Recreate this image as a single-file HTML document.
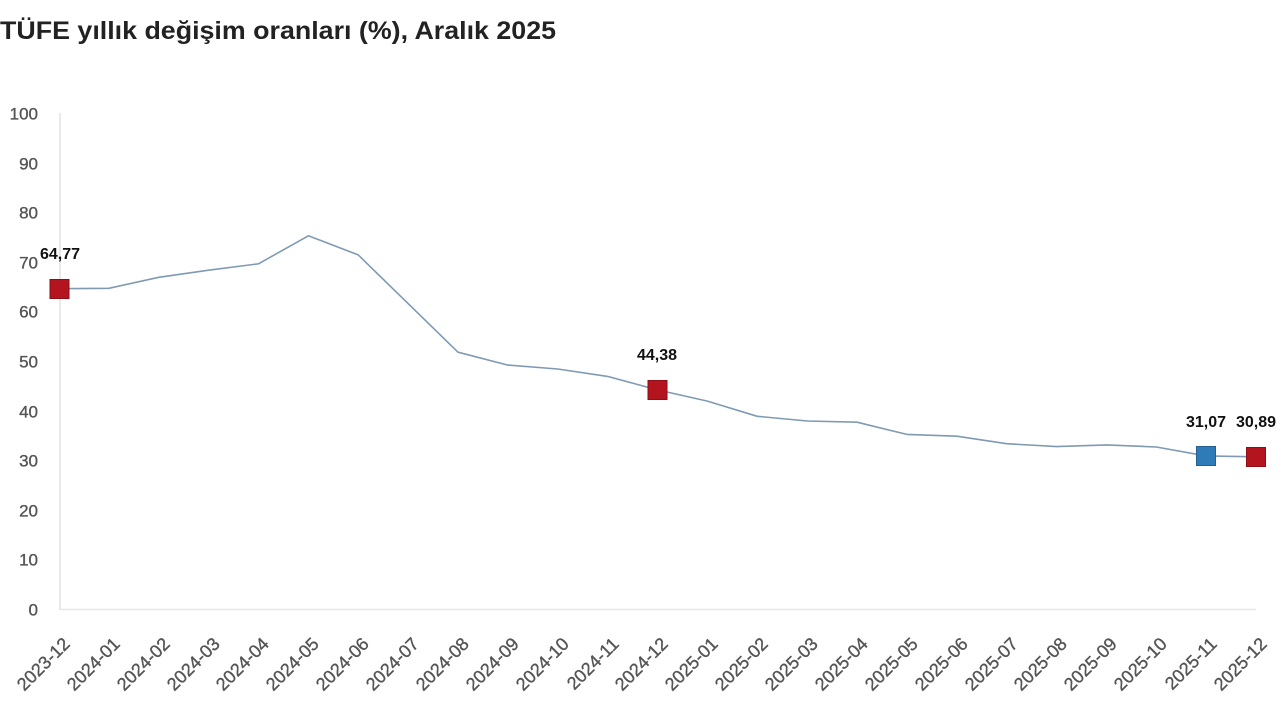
<!DOCTYPE html>
<html>
<head>
<meta charset="utf-8">
<style>
html,body{margin:0;padding:0;background:#fff;}
svg{display:block;}
text{font-family:"Liberation Sans",Arial,sans-serif;}
</style>
</head>
<body>
<svg width="1280" height="720" viewBox="0 0 1280 720" xmlns="http://www.w3.org/2000/svg">
<rect width="1280" height="720" fill="#fff"/>
<text x="0" y="39" font-size="25" font-weight="bold" fill="#222" textLength="556" lengthAdjust="spacingAndGlyphs">TÜFE yıllık değişim oranları (%), Aralık 2025</text>

<!-- axes -->
<line x1="60" y1="113" x2="60" y2="610" stroke="#e2e2e2" stroke-width="1.5"/>
<line x1="60" y1="609.5" x2="1256" y2="609.5" stroke="#e6e6e6" stroke-width="1.5"/>

<!-- y labels -->
<g font-size="17" fill="#555" stroke="#555" stroke-width="0.35" text-anchor="end" dominant-baseline="central">
<text x="38" y="114">100</text>
<text x="38" y="164">90</text>
<text x="38" y="213">80</text>
<text x="38" y="263">70</text>
<text x="38" y="312">60</text>
<text x="38" y="362">50</text>
<text x="38" y="412">40</text>
<text x="38" y="461">30</text>
<text x="38" y="511">20</text>
<text x="38" y="560">10</text>
<text x="38" y="610">0</text>
</g>

<!-- x labels -->
<g font-size="18" fill="#555" stroke="#555" stroke-width="0.35" text-anchor="end">
<text transform="translate(71,645) rotate(-45)">2023-12</text>
<text transform="translate(121,645) rotate(-45)">2024-01</text>
<text transform="translate(171,645) rotate(-45)">2024-02</text>
<text transform="translate(221,645) rotate(-45)">2024-03</text>
<text transform="translate(270,645) rotate(-45)">2024-04</text>
<text transform="translate(320,645) rotate(-45)">2024-05</text>
<text transform="translate(370,645) rotate(-45)">2024-06</text>
<text transform="translate(420,645) rotate(-45)">2024-07</text>
<text transform="translate(470,645) rotate(-45)">2024-08</text>
<text transform="translate(520,645) rotate(-45)">2024-09</text>
<text transform="translate(570,645) rotate(-45)">2024-10</text>
<text transform="translate(620,645) rotate(-45)">2024-11</text>
<text transform="translate(669,645) rotate(-45)">2024-12</text>
<text transform="translate(719,645) rotate(-45)">2025-01</text>
<text transform="translate(769,645) rotate(-45)">2025-02</text>
<text transform="translate(819,645) rotate(-45)">2025-03</text>
<text transform="translate(869,645) rotate(-45)">2025-04</text>
<text transform="translate(919,645) rotate(-45)">2025-05</text>
<text transform="translate(969,645) rotate(-45)">2025-06</text>
<text transform="translate(1019,645) rotate(-45)">2025-07</text>
<text transform="translate(1068,645) rotate(-45)">2025-08</text>
<text transform="translate(1118,645) rotate(-45)">2025-09</text>
<text transform="translate(1168,645) rotate(-45)">2025-10</text>
<text transform="translate(1218,645) rotate(-45)">2025-11</text>
<text transform="translate(1268,645) rotate(-45)">2025-12</text>
</g>

<!-- series line -->
<polyline fill="none" stroke="#7f9ab3" stroke-width="1.6" stroke-linejoin="round"
points="59,288.7 108.9,288.3 158.75,277.3 208.6,270.2 258.5,263.8 308.4,235.8 358.25,254.9 408.1,303.6 458,352.2 507.9,365.1 557.75,369.0 607.6,376.4 657.5,389.9 707.4,401.1 757.25,416.3 807.1,421.0 857,422.2 906.9,434.4 956.75,436.2 1006.6,443.7 1056.5,446.6 1106.4,444.9 1156.25,447.0 1206.1,455.9 1256,456.8"/>

<!-- markers -->
<rect x="50" y="279.5" width="19" height="19" fill="#b3141e" stroke="#8e0f16" stroke-width="1"/>
<rect x="648" y="380.5" width="19" height="19" fill="#b3141e" stroke="#8e0f16" stroke-width="1"/>
<rect x="1196.5" y="446.5" width="19" height="19" fill="#2f7bb8" stroke="#255f8f" stroke-width="1"/>
<rect x="1246.5" y="447.5" width="19" height="19" fill="#b3141e" stroke="#8e0f16" stroke-width="1"/>

<!-- data labels -->
<g font-size="16" font-weight="bold" fill="#111" text-anchor="middle">
<text x="60" y="259">64,77</text>
<text x="657" y="360">44,38</text>
<text x="1206" y="427">31,07</text>
<text x="1256" y="427">30,89</text>
</g>
</svg>
</body>
</html>
